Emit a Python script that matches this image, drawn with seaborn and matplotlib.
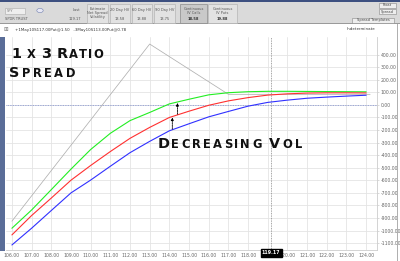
import numpy as np
import pandas as pd
import matplotlib
matplotlib.use("Agg")
import matplotlib.pyplot as plt
from matplotlib.patches import Rectangle
import seaborn as sns

# ---------------- data ----------------
price = [106, 107, 108, 109, 110, 111, 112, 113, 114, 115, 116, 117, 118, 119, 120, 121, 122, 123, 124]
pl_green = [-981, -836, -674, -511, -355, -226, -125, -60, 8, 45, 80, 97, 105, 108, 108, 107, 106, 105, 104]
pl_red = [-1034, -880, -741, -599, -482, -371, -266, -179, -100, -50, -3, 32, 58, 78, 88, 94, 96, 96, 95]
pl_blue = [-1114, -981, -840, -700, -598, -488, -380, -290, -206, -150, -95, -52, -10, 20, 38, 53, 62, 70, 77]
expiry_price = [106, 113, 117, 124.2]
expiry_pl = [-925, 484, 84, 84]
x_ticks = list(range(106, 125))
y_ticks = list(range(-1100, 500, 100))
spot = 119.17
legend_text = "+1May10S117.00Put@1.50   -3May10S113.00Put@0.78"
header_titles = ["Estimate\nNet Spread\nVolatility", "20 Day HV", "60 Day HV", "90 Day HV",
                 "Continuous\nIV Calls", "Continuous\nIV Puts"]
header_values = ["", "13.58", "13.88", "13.75", "18.58", "19.88"]

# ---------------- figure ----------------
sns.set_style("white")
plt.rcParams['font.family'] = ['DejaVu Sans']
W, H = 400, 261
fig = plt.figure(figsize=(4.0, 2.61), dpi=100)
fig.patch.set_facecolor('white')

def fx(x):
    return x / W

def fy(y):
    return 1 - y / H

# header panel
fig.patches.append(Rectangle((0, fy(23)), 1, (23 - 0) / H, transform=fig.transFigure,
                             facecolor='#dadada', edgecolor='none', zorder=0))
fig.patches.append(Rectangle((0, fy(1.5)), 1, 1.5 / H, transform=fig.transFigure,
                             facecolor='#3d5080', edgecolor='none', zorder=1))
fig.patches.append(Rectangle((0, fy(23.5)), 1, 0.8 / H, transform=fig.transFigure,
                             facecolor='#9a9a9a', edgecolor='none', zorder=1))
# left blue strip and right border
fig.patches.append(Rectangle((0, fy(251)), fx(4.5), (251 - 37) / H, transform=fig.transFigure,
                             facecolor='#5a6d98', edgecolor='none', zorder=1))
fig.patches.append(Rectangle((fx(396.5), fy(261)), fx(1), (261 - 24) / H, transform=fig.transFigure,
                             facecolor='#b0b0b0', edgecolor='none', zorder=1))

hdr_fs = 2.6
hdr_col = '#555555'
# symbol box
fig.patches.append(Rectangle((fx(5), fy(13.5)), fx(20), 6 / H, transform=fig.transFigure,
                             facecolor='#eeeeee', edgecolor='#aaaaaa', lw=0.4, zorder=2))
fig.text(fx(7), fy(10.7), "SPY", fontsize=hdr_fs, color='#777777', va='center', zorder=3)
fig.patches.append(plt.Circle((fx(40), fy(10.5)), 0.008, transform=fig.transFigure,
                              facecolor='#e8e8f4', edgecolor='#7080b0', lw=0.4, zorder=2))
fig.text(fx(5), fy(19), "SPDR TRUST", fontsize=hdr_fs, color=hdr_col, va='center', zorder=3)
fig.text(fx(76), fy(10), "Last", fontsize=hdr_fs, color=hdr_col, ha='center', va='center', zorder=3)
fig.text(fx(75), fy(19), "119.17", fontsize=hdr_fs, color=hdr_col, ha='center', va='center', zorder=3)

box_x = [(87, 108), (110, 130), (132, 152), (154, 175), (180, 207), (208, 237)]
for i, ((x0, x1), t, v) in enumerate(zip(box_x, header_titles, header_values)):
    dark = i == 4
    fig.patches.append(Rectangle((fx(x0), fy(23)), fx(x1 - x0), (23 - 3.5) / H,
                                 transform=fig.transFigure,
                                 facecolor='#c9c9c9' if dark else '#e2e2e2',
                                 edgecolor='#8c8c8c' if dark else '#b5b5b5', lw=0.5, zorder=2))
    cx = (x0 + x1) / 2
    if v:
        fig.text(fx(cx), fy(10.5), t, fontsize=hdr_fs, color=hdr_col, ha='center', va='center',
                 linespacing=1.0, zorder=3)
        fig.text(fx(cx), fy(19), v, fontsize=hdr_fs, color='#333333' if i >= 4 else hdr_col,
                 ha='center', va='center', fontweight='bold' if i >= 4 else 'normal', zorder=3)
    else:
        fig.text(fx(cx), fy(13), t, fontsize=hdr_fs, color=hdr_col, ha='center', va='center',
                 linespacing=1.0, zorder=3)

for (x0, x1, y0, y1, t) in [(379, 396, 3, 8, "Float"), (379, 396, 9, 14, "Spread"),
                            (352, 394, 17.5, 23, "Spread Templates")]:
    fig.patches.append(Rectangle((fx(x0), fy(y1)), fx(x1 - x0), (y1 - y0) / H,
                                 transform=fig.transFigure, facecolor='#eeeeee',
                                 edgecolor='#888888', lw=0.4, zorder=2))
    fig.text(fx((x0 + x1) / 2), fy((y0 + y1) / 2), t, fontsize=hdr_fs, color='#444444',
             ha='center', va='center', zorder=3)

# legend strip
fig.text(fx(3), fy(29.5), "\u229e", fontsize=4, color='#777777', va='center')
fig.text(fx(15), fy(29.5), legend_text, fontsize=2.9, color='#333333', va='center')
fig.text(fx(347), fy(29.5), "Indeterminate", fontsize=2.9, color='#333333', va='center')

# ---------------- plot ----------------
ax = fig.add_axes([fx(6), fy(249.5), (377 - 6) / W, (249.5 - 37) / H])
ax.set_facecolor('white')

df = pd.DataFrame({"price": price, "high": pl_green, "mid": pl_red, "low": pl_blue})
ax.axhline(0, color='#7f8fcf', lw=0.6, ls=(0, (1, 1)), zorder=2)
ax.axvline(spot, color='#888888', lw=0.6, ls=(0, (1, 1)), zorder=2)
sns.lineplot(x=expiry_price, y=expiry_pl, color='#b0b0b0', lw=0.55, ax=ax, zorder=3)
sns.lineplot(data=df, x="price", y="high", color='#22ee22', lw=0.8, ax=ax, zorder=4)
sns.lineplot(data=df, x="price", y="mid", color='#ff3030', lw=0.8, ax=ax, zorder=4)
sns.lineplot(data=df, x="price", y="low", color='#3030ff', lw=0.8, ax=ax, zorder=4)

ax.set_xlim(105.7, 124.55)
ax.set_ylim(-1150, 540)
ax.set_xticks(x_ticks)
ax.set_xticklabels(["" if t == 119 else f"{t:.2f}" for t in x_ticks])
ax.set_yticks(y_ticks)
ax.set_yticklabels([f"{t:.2f}" for t in y_ticks])
ax.yaxis.tick_right()
ax.grid(True, color='#e4e4e4', lw=0.6)
ax.set_axisbelow(True)
ax.tick_params(axis='both', labelsize=3.3, labelcolor='#666666', length=1.5, width=0.4,
               color='#bbbbbb', pad=1.0)
ax.tick_params(axis='x', pad=0.8)
ax.set_xlabel("")
ax.set_ylabel("")
for s in ['top', 'left']:
    ax.spines[s].set_visible(False)
for s in ['right', 'bottom']:
    ax.spines[s].set_color('#cccccc')
    ax.spines[s].set_linewidth(0.6)

ax.annotate(f"{spot:.2f}", xy=(spot, 0), xycoords=('data', 'axes fraction'),
            xytext=(0, -0.6), textcoords='offset points', ha='center', va='top',
            fontsize=3.4, color='white', fontweight='bold',
            bbox=dict(boxstyle='square,pad=0.25', fc='black', ec='black'))

# arrows between curves (decreasing vol)
xa1, xa2 = 114.41, 114.15
ax.annotate("", xy=(xa1, np.interp(xa1, price, pl_green) - 8),
            xytext=(xa1, np.interp(xa1, price, pl_red) + 5),
            arrowprops=dict(arrowstyle='-|>', color='black', lw=0.6, ls=(0, (2, 1)),
                            mutation_scale=4, shrinkA=0, shrinkB=0), zorder=6)
ax.annotate("", xy=(xa2, np.interp(xa2, price, pl_red) - 8),
            xytext=(xa2, np.interp(xa2, price, pl_blue) + 5),
            arrowprops=dict(arrowstyle='-|>', color='black', lw=0.6, ls=(0, (2, 1)),
                            mutation_scale=4, shrinkA=0, shrinkB=0), zorder=6)

# ---------------- small-caps titles ----------------
renderer = fig.canvas.get_renderer()

def smallcaps(x0, base, text, cap_px, width_px, ratio=0.8):
    em_px = cap_px / 0.729
    fs_big = em_px * 72 / 100
    fs_small = fs_big * ratio
    items = []
    for c in text:
        if c == ' ':
            items.append((None, em_px * 0.25))
            continue
        big = c.isupper() or c.isdigit()
        t = fig.text(0, 0, c.upper(), fontsize=fs_big if big else fs_small,
                     fontweight='bold', color='#111111', va='baseline', ha='left', zorder=10)
        w = t.get_window_extent(renderer).width
        items.append((t, w))
    natural = sum(w for _, w in items)
    n = len(items)
    track = (width_px - natural) / max(n - 1, 1)
    x = x0
    for t, w in items:
        if t is not None:
            t.set_position((fx(x), fy(base)))
        x += w + track

smallcaps(11, 58.3, "1 x 3 Ratio", 10.5, 92)
smallcaps(9.3, 76.7, "Spread", 10.5, 66)
smallcaps(157.3, 148.3, "Decreasing Vol", 10.5, 144.5)

fig.savefig("out.png", dpi=100, facecolor='white')
